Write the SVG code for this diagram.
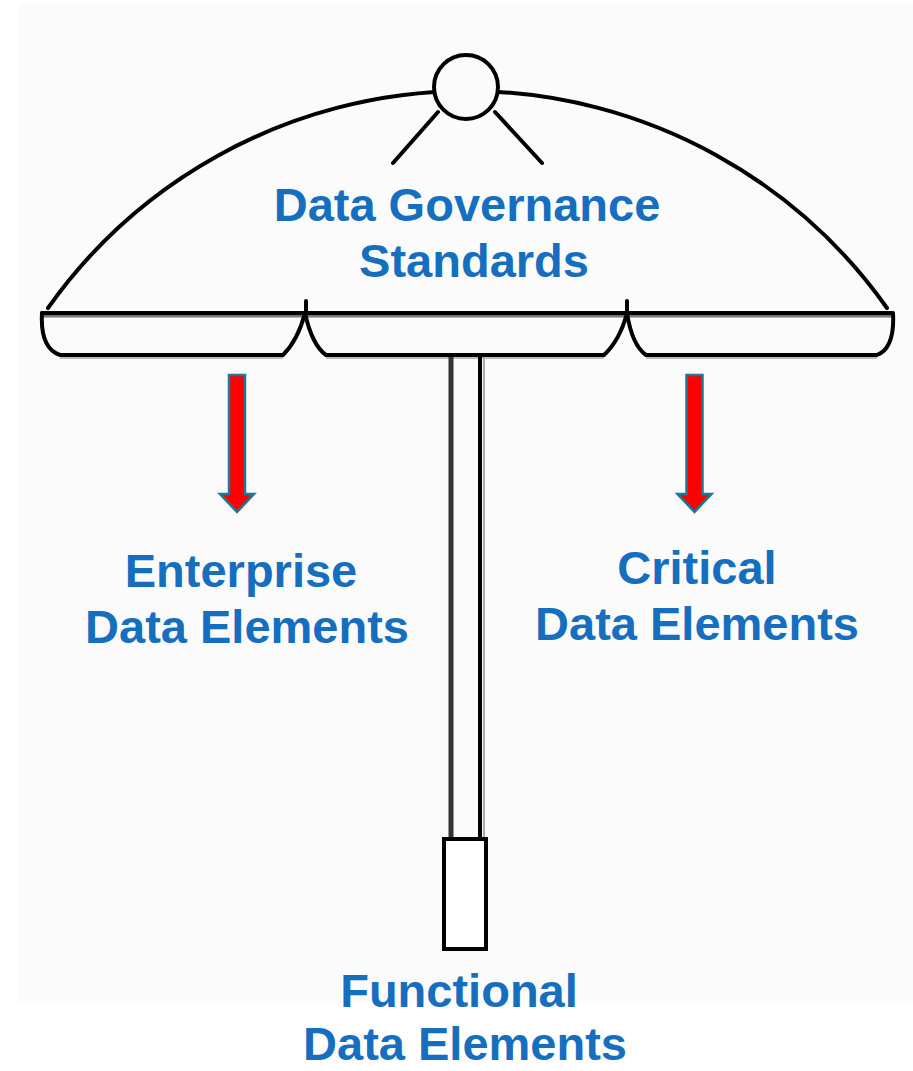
<svg xmlns="http://www.w3.org/2000/svg" width="913" height="1071" viewBox="0 0 913 1071">
  <style>
    .ink { fill: none; stroke: #000; stroke-width: 4; stroke-linecap: round; stroke-linejoin: round; }
    .label { font-family: "Liberation Sans", Arial, sans-serif; font-weight: bold; font-size: 47px; fill: #166ebf; text-anchor: middle; }
    .arrow { fill: #ff0000; stroke: #1f7896; stroke-width: 2.5; stroke-linejoin: miter; }
  </style>
  <defs>
    <!-- downward block arrow, tip at origin -->
    <path id="downArrow" class="arrow" d="M -8 -137 H 8 V -18 H 17 L 0 0 L -17 -18 H -8 Z"/>
  </defs>

  <rect width="913" height="1071" fill="#fff"/>
  <rect x="19" y="3" width="894" height="1000" fill="#fbfbfb"/>

  <!-- umbrella -->
  <g id="umbrella">
    <!-- canopy dome -->
    <path class="ink" d="M 48 308 A 514 514 0 0 1 887 308"/>
    <!-- ribs below the finial -->
    <path class="ink" d="M 438 112 L 393 163 M 495 112 L 542 163"/>
    <!-- finial -->
    <circle cx="466" cy="87" r="32" fill="#fbfbfb" stroke="#000" stroke-width="4"/>
    <!-- valance band -->
    <path d="M 42 316 H 892" stroke="#777" stroke-width="3" fill="none"/>
    <path class="ink" d="M 42 313 H 892"/>
    <path class="ink" d="M 42 313 Q 40 348 60 355 H 283 Q 298 340 305 313"/>
    <path class="ink" d="M 305 313 Q 312 345 326 355 H 604 Q 620 340 627 313"/>
    <path class="ink" d="M 627 313 Q 632 345 646 355 H 877 Q 895 348 893 313"/>
    <path class="ink" d="M 306 301 V 313 M 627 301 V 313"/>
    <path d="M 60 358 H 283 M 326 358 H 604 M 646 358 H 877" stroke="#bbb" stroke-width="2" fill="none"/>
    <!-- shaft -->
    <path d="M 451 357 V 839" stroke="#333" stroke-width="5" fill="none"/>
    <path d="M 480 357 V 839" stroke="#000" stroke-width="4" fill="none"/>
    <path d="M 484 357 V 839" stroke="#aaa" stroke-width="2" fill="none"/>
    <!-- handle -->
    <rect x="444" y="839" width="42" height="110" fill="#fff" stroke="#000" stroke-width="4"/>
  </g>

  <!-- arrows -->
  <g id="connectors">
    <use href="#downArrow" x="237" y="512"/>
    <use href="#downArrow" x="694.5" y="512"/>
  </g>

  <g id="governance">
    <text class="label" x="467" y="221">Data Governance</text>
    <text class="label" x="474" y="277">Standards</text>
  </g>
  <g id="enterprise">
    <text class="label" x="241" y="587">Enterprise</text>
    <text class="label" x="247" y="643">Data Elements</text>
  </g>
  <g id="critical">
    <text class="label" x="697" y="584">Critical</text>
    <text class="label" x="697" y="640">Data Elements</text>
  </g>
  <g id="functional">
    <text class="label" x="459" y="1007">Functional</text>
    <text class="label" x="465" y="1060">Data Elements</text>
  </g>
</svg>
